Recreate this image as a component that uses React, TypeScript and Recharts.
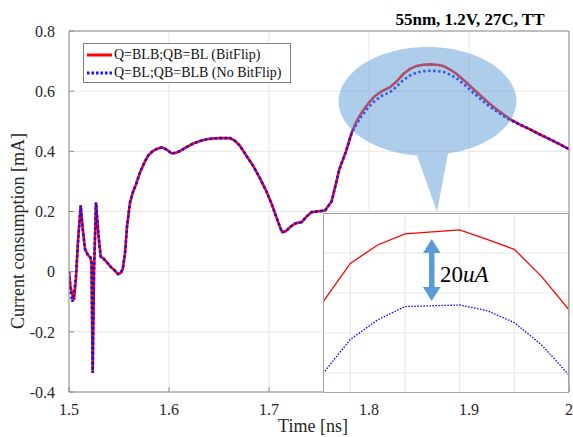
import React from 'react';
import { LineChart, Line, XAxis, YAxis, CartesianGrid, Legend } from 'recharts';

// time axis in ns, current in mA
const time = [
  1.5, 1.5015, 1.5033, 1.505, 1.507, 1.509, 1.5117, 1.5135, 1.516, 1.519,
  1.5215, 1.5225, 1.5237, 1.525, 1.527, 1.5295, 1.5317, 1.535, 1.5377, 1.542,
  1.546, 1.549, 1.5515, 1.5537, 1.556, 1.558, 1.561, 1.564, 1.567, 1.571,
  1.575, 1.579, 1.5835, 1.5877, 1.593, 1.5977, 1.6027, 1.607, 1.611, 1.617,
  1.6243, 1.631, 1.6377, 1.645, 1.651, 1.661, 1.666, 1.671, 1.6775, 1.6843,
  1.691, 1.6977, 1.703, 1.7077, 1.711, 1.7132, 1.717, 1.721, 1.726, 1.7327,
  1.7377, 1.7427, 1.75, 1.756, 1.7627, 1.7703, 1.777, 1.7827, 1.7875, 1.7927,
  1.799, 1.806, 1.813, 1.821, 1.8275, 1.8343, 1.841, 1.8477, 1.854, 1.861,
  1.868, 1.8743, 1.881, 1.8877, 1.896, 1.9043, 1.9125, 1.921, 1.931, 1.941,
  1.951, 1.961, 1.971, 1.981, 1.991, 2.0,
];

const bitFlip = [
  0, -0.05, -0.075, -0.095, -0.02, 0.1, 0.22, 0.15, 0.075, 0.055,
  0.047, 0.03, -0.337, 0.0, 0.23, 0.12, 0.05, 0.042, 0.032, 0.015,
  0.003, -0.008, -0.005, 0.008, 0.06, 0.15, 0.23, 0.265, 0.29, 0.33,
  0.36, 0.385, 0.4, 0.408, 0.413, 0.406, 0.393, 0.395, 0.401, 0.413,
  0.426, 0.434, 0.44, 0.443, 0.444, 0.444, 0.435, 0.418, 0.385, 0.351,
  0.31, 0.265, 0.222, 0.178, 0.148, 0.131, 0.135, 0.148, 0.16, 0.165,
  0.184, 0.198, 0.201, 0.203, 0.234, 0.34, 0.4, 0.462, 0.5, 0.529,
  0.558, 0.584, 0.6, 0.613, 0.632, 0.657, 0.674, 0.684, 0.688, 0.689,
  0.688, 0.684, 0.672, 0.657, 0.633, 0.607, 0.582, 0.557, 0.531, 0.507,
  0.489, 0.473, 0.456, 0.44, 0.423, 0.407,
];

const noBitFlip = [
  0, -0.065, -0.1, -0.075, -0.01, 0.1, 0.22, 0.15, 0.075, 0.055,
  0.047, 0.03, -0.337, 0.0, 0.23, 0.12, 0.05, 0.042, 0.032, 0.015,
  0.003, -0.008, -0.005, 0.008, 0.06, 0.15, 0.23, 0.265, 0.29, 0.33,
  0.36, 0.385, 0.4, 0.408, 0.413, 0.406, 0.393, 0.395, 0.401, 0.413,
  0.426, 0.434, 0.44, 0.443, 0.444, 0.444, 0.435, 0.418, 0.385, 0.351,
  0.31, 0.265, 0.222, 0.178, 0.148, 0.131, 0.135, 0.148, 0.16, 0.165,
  0.184, 0.198, 0.201, 0.203, 0.234, 0.34, 0.4, 0.462, 0.49, 0.517,
  0.545, 0.568, 0.585, 0.597, 0.615, 0.637, 0.652, 0.662, 0.666, 0.668,
  0.667, 0.664, 0.655, 0.643, 0.62, 0.595, 0.571, 0.548, 0.525, 0.504,
  0.489, 0.473, 0.456, 0.44, 0.423, 0.407,
];

const xTicks = [1.5, 1.6, 1.7, 1.8, 1.9, 2];
const yTicks = [-0.4, -0.2, 0, 0.2, 0.4, 0.6, 0.8];

// zoomed view of the peak
const zoomTime = [1.835, 1.84, 1.845, 1.85, 1.855, 1.86, 1.865, 1.87, 1.875, 1.88];
const zoomBitFlip = [0.6728, 0.6824, 0.687, 0.6898, 0.6903, 0.6908, 0.6884, 0.6859, 0.6791, 0.6708];
const zoomNoBitFlip = [0.6549, 0.6634, 0.6683, 0.6716, 0.6718, 0.672, 0.6706, 0.6676, 0.662, 0.6545];
const zoomYTicks = [0.65, 0.655, 0.66, 0.665, 0.67, 0.675, 0.68, 0.685, 0.69, 0.695];

const data = time.map((t, i) => ({ t, flip: bitFlip[i], noFlip: noBitFlip[i] }));
const zoomData = zoomTime.map((t, i) => ({ t, flip: zoomBitFlip[i], noFlip: zoomNoBitFlip[i] }));

const FONT = '"Liberation Serif", "Times New Roman", serif';
const AXIS = '#8c8c8c';
const GRID = '#e6e6e6';

const legendItems = [
  { label: 'Q=BLB;QB=BL (BitFlip)', color: '#ff0000', dash: undefined },
  { label: 'Q=BL;QB=BLB (No BitFlip)', color: '#1010ff', dash: '2.5 2' },
];

function LegendBox() {
  return (
    <div
      style={{
        width: 208,
        height: 40,
        boxSizing: 'border-box',
        border: '1px solid #7f7f7f',
        background: '#fff',
        paddingTop: 2,
        fontFamily: FONT,
        fontSize: 14,
        color: '#111',
      }}
    >
      {legendItems.map((it) => (
        <div key={it.label} style={{ display: 'flex', alignItems: 'center', height: 18 }}>
          <svg width={28} height={18} style={{ marginLeft: 2 }}>
            <line x1={1} x2={26} y1={9} y2={9} stroke={it.color} strokeWidth={3} strokeDasharray={it.dash} />
          </svg>
          <span style={{ whiteSpace: 'nowrap' }}>{it.label}</span>
        </div>
      ))}
    </div>
  );
}

const fmtY = (v: number) => (v === 0 ? '0' : v.toFixed(1));
const fmtX = (v: number) => (v === 2 ? '2' : v.toFixed(1));

export default function App() {
  const tickStyle = { fontFamily: FONT, fontSize: 16, fill: '#262626' };
  return (
    <div style={{ position: 'absolute', left: 0, top: 0, width: 573, height: 437, background: '#fff' }}>
      <LineChart width={573} height={437} data={data} margin={{ top: 30, right: 3, bottom: 0, left: 0 }}>
        <CartesianGrid stroke={GRID} horizontalValues={yTicks} verticalValues={xTicks} />
        <XAxis
          dataKey="t"
          type="number"
          domain={[1.5, 2]}
          ticks={xTicks}
          allowDataOverflow
          height={45}
          tickFormatter={fmtX}
          tick={tickStyle}
          stroke={AXIS}
          tickSize={-5}
          tickMargin={17}
          interval={0}
        />
        <XAxis
          xAxisId="top"
          orientation="top"
          type="number"
          domain={[1.5, 2]}
          ticks={xTicks}
          allowDataOverflow
          height={1}
          tick={false}
          stroke={AXIS}
          tickSize={-5}
        />
        <YAxis
          type="number"
          domain={[-0.4, 0.8]}
          ticks={yTicks}
          allowDataOverflow
          width={69}
          tickFormatter={fmtY}
          tick={tickStyle}
          stroke={AXIS}
          tickSize={-5}
          tickMargin={19}
          interval={0}
        />
        <YAxis
          yAxisId="right"
          orientation="right"
          type="number"
          domain={[-0.4, 0.8]}
          ticks={yTicks}
          allowDataOverflow
          width={1}
          tick={false}
          stroke={AXIS}
          tickSize={-5}
        />
        <Legend
          layout="vertical"
          align="center"
          verticalAlign="middle"
          wrapperStyle={{ left: 83, top: 43, width: 208, height: 40 }}
          content={() => <LegendBox />}
        />
        <Line
          type="linear"
          dataKey="flip"
          stroke="#ff0000"
          strokeWidth={2.6}
          dot={false}
          isAnimationActive={false}
        />
        <Line
          type="linear"
          dataKey="noFlip"
          stroke="#1010ff"
          strokeWidth={2.6}
          strokeDasharray="2.5 2.5"
          dot={false}
          isAnimationActive={false}
        />
      </LineChart>

      {/* callout bubble, title and axis titles */}
      <svg width={573} height={437} style={{ position: 'absolute', left: 0, top: 0, pointerEvents: 'none' }}>
        <g fill="#5b9bd5" opacity={0.5}>
          <path d="M 338.5 102 A 89 55 0 1 1 516.5 102 A 89 55 0 0 1 448 153.5 L 437 212 L 417 155.5 A 89 55 0 0 1 338.5 102 Z" />
        </g>
        <text x={470} y={25} textAnchor="middle" fontFamily={FONT} fontSize={17} fontWeight="bold" fill="#000">
          55nm, 1.2V, 27C, TT
        </text>
        <text
          transform="translate(23.5 231) rotate(-90)"
          textAnchor="middle"
          fontFamily={FONT}
          fontSize={18}
          fill="#262626"
        >
          Current consumption [mA]
        </text>
        <text x={313} y={432} textAnchor="middle" fontFamily={FONT} fontSize={18} fill="#262626">
          Time [ns]
        </text>
      </svg>

      {/* zoomed inset */}
      <div style={{ position: 'absolute', left: 323, top: 213, width: 246, height: 180, background: '#fff' }}>
        <LineChart width={246} height={180} data={zoomData} margin={{ top: 0, right: 0, bottom: 0, left: 0 }}>
          <CartesianGrid stroke={GRID} horizontalValues={zoomYTicks} verticalValues={zoomTime} />
          <XAxis dataKey="t" type="number" domain={[1.835, 1.88]} ticks={zoomTime} hide />
          <YAxis type="number" domain={[0.65, 0.695]} ticks={zoomYTicks} hide />
          <Line type="linear" dataKey="flip" stroke="#ff0000" strokeWidth={1.3} dot={false} isAnimationActive={false} />
          <Line
            type="linear"
            dataKey="noFlip"
            stroke="#0000ff"
            strokeWidth={1.3}
            strokeDasharray="1.5 1.5"
            dot={false}
            isAnimationActive={false}
          />
        </LineChart>
      </div>

      {/* inset frame, arrow and label */}
      <svg width={573} height={437} style={{ position: 'absolute', left: 0, top: 0, pointerEvents: 'none' }}>
        <rect x={323.5} y={213.5} width={245} height={179} fill="none" stroke="#a6a6a6" />
        <g fill="#5b9bd5">
          <rect x={429} y={250} width={5.5} height={40} />
          <path d="M 431.7 239 L 440.5 253 L 423 253 Z" />
          <path d="M 431.7 301 L 440.5 287 L 423 287 Z" />
        </g>
        <text x={440} y={282} fontFamily={FONT} fontSize={23} fill="#000">
          20<tspan fontStyle="italic">uA</tspan>
        </text>
      </svg>
    </div>
  );
}
